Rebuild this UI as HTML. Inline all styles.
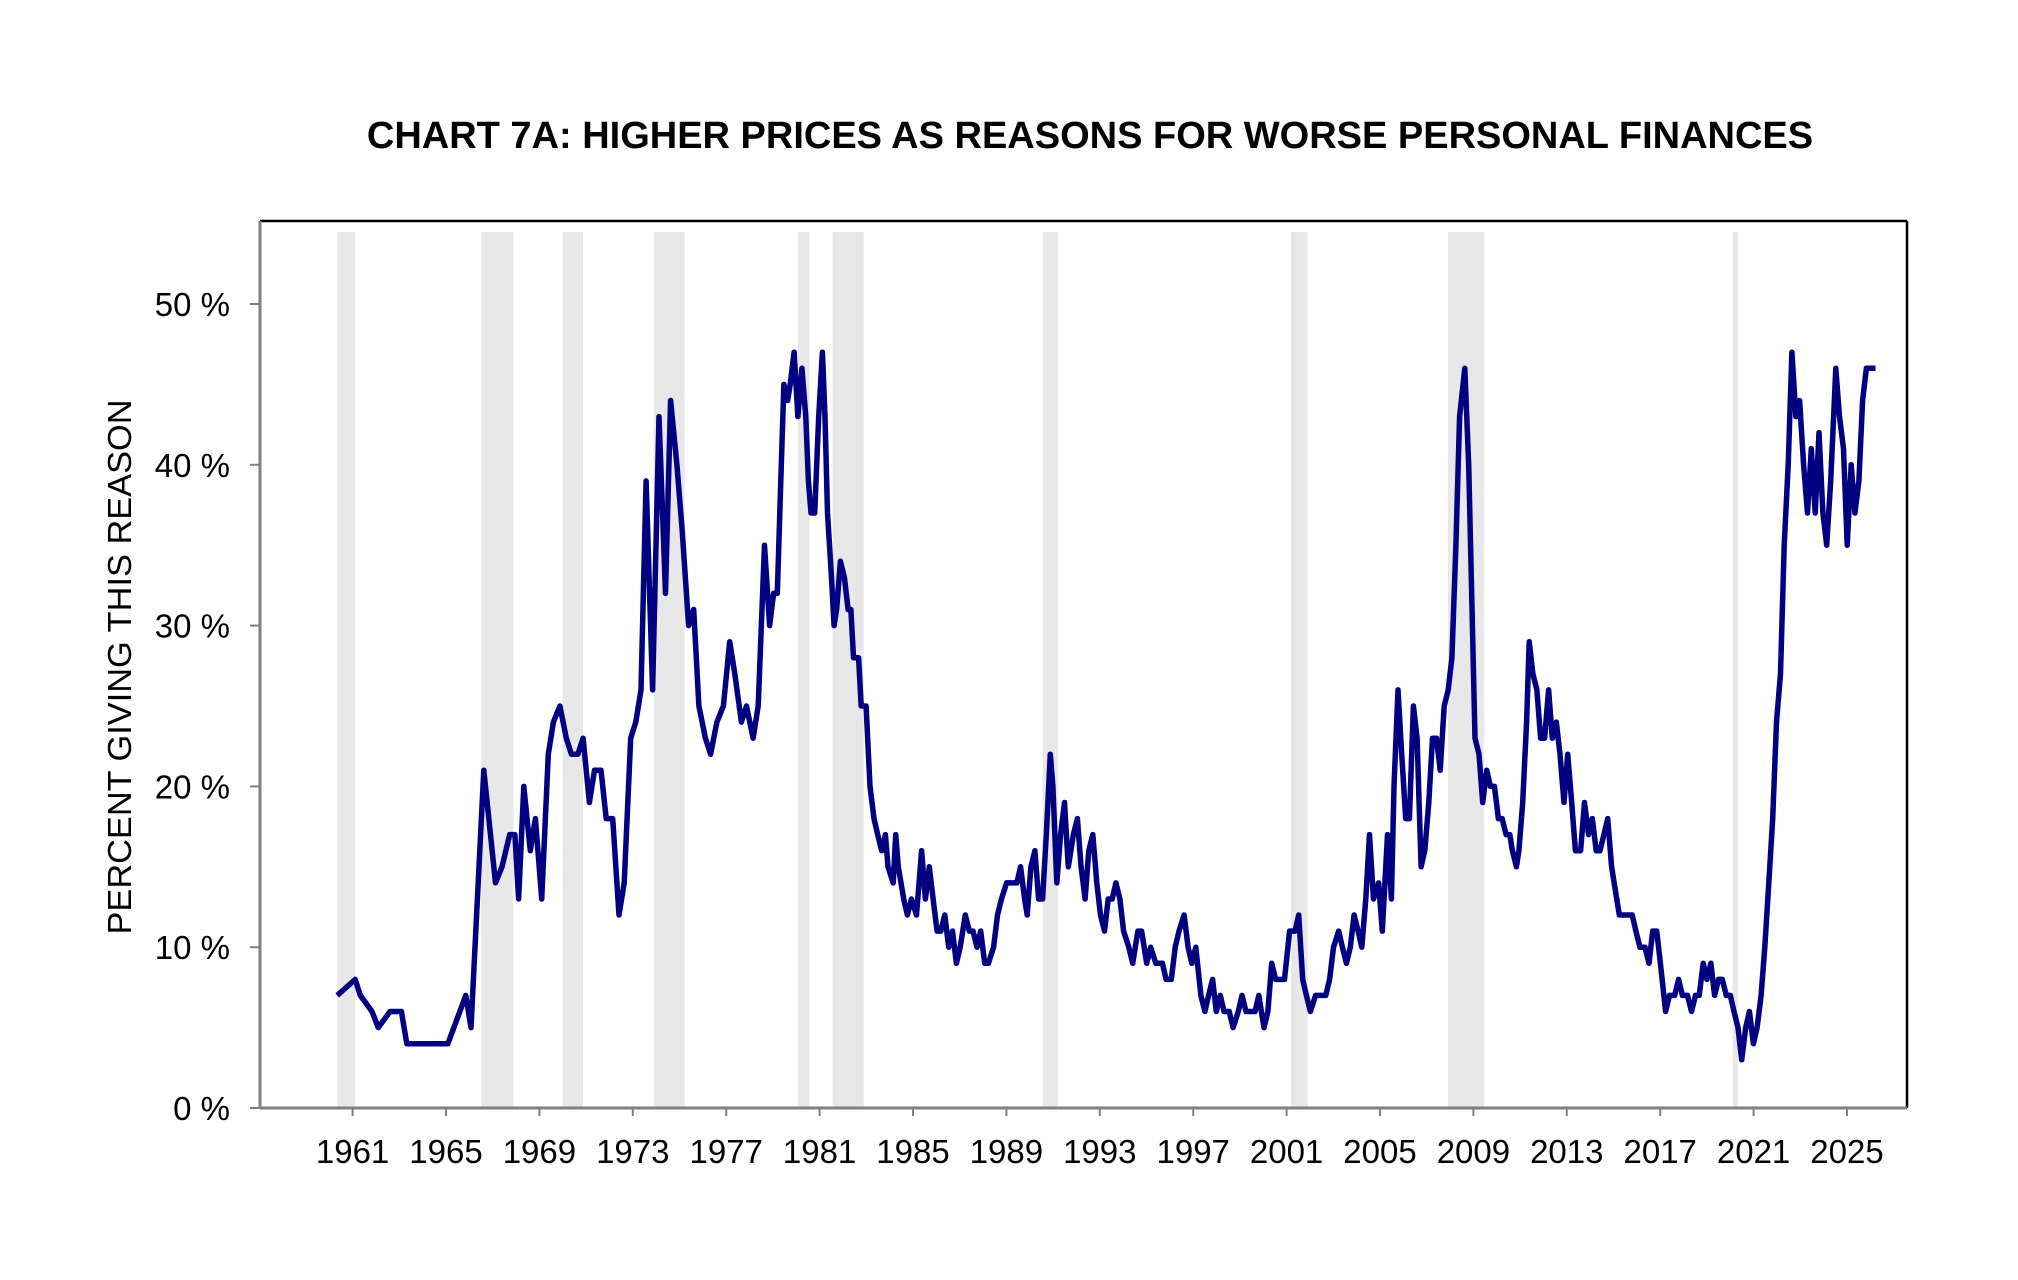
<!DOCTYPE html>
<html><head><meta charset="utf-8">
<style>
html,body{margin:0;padding:0;background:#fff;}
svg{display:block;font-family:"Liberation Sans",Arial,sans-serif;}
</style></head>
<body>
<svg id="chart" width="2018" height="1280" viewBox="0 0 2018 1280">
<text x="1090" y="148" text-anchor="middle" font-size="38" font-weight="bold" fill="#000">CHART 7A: HIGHER PRICES AS REASONS FOR WORSE PERSONAL FINANCES</text>
<text transform="translate(131,667) rotate(-90)" text-anchor="middle" font-size="33" fill="#000" textLength="535" lengthAdjust="spacingAndGlyphs">PERCENT GIVING THIS REASON</text>
<g id="shades"></g>
<g id="axes"></g>
<path id="series" fill="none" stroke="#000080" stroke-width="5.5" stroke-linejoin="round"/>
</svg>
<script>
const shadeStarts=[1960.34,1966.51,1969.99,1973.90,1980.07,1981.56,1990.55,2001.19,2007.91,2020.10];
const shadeEnds=[1961.11,1967.89,1970.87,1975.22,1980.57,1982.89,1991.21,2001.90,2009.46,2020.32];
const yTicks=[0,10,20,30,40,50];
const xTicks=[1961,1965,1969,1973,1977,1981,1985,1989,1993,1997,2001,2005,2009,2013,2017,2021,2025];
const years=[1960.34,1961.11,1961.33,1961.83,1962.10,1962.60,1963.09,1963.32,1963.81,1965.08,1965.85,1966.07,1966.62,1967.12,1967.40,1967.73,1967.95,1968.11,1968.33,1968.61,1968.83,1969.10,1969.38,1969.60,1969.88,1970.15,1970.37,1970.65,1970.87,1971.14,1971.36,1971.64,1971.86,1972.14,1972.41,1972.63,1972.91,1973.13,1973.35,1973.57,1973.85,1974.12,1974.40,1974.62,1974.89,1975.11,1975.39,1975.61,1975.83,1976.11,1976.33,1976.60,1976.88,1977.15,1977.37,1977.65,1977.87,1978.15,1978.37,1978.64,1978.86,1979.03,1979.19,1979.36,1979.47,1979.63,1979.74,1979.91,1980.07,1980.24,1980.41,1980.52,1980.63,1980.79,1980.96,1981.12,1981.23,1981.34,1981.51,1981.62,1981.73,1981.89,1982.06,1982.22,1982.34,1982.45,1982.67,1982.78,1982.99,1983.16,1983.33,1983.49,1983.66,1983.82,1983.93,1984.15,1984.26,1984.37,1984.60,1984.76,1984.93,1985.15,1985.37,1985.53,1985.70,1985.86,1986.03,1986.19,1986.36,1986.53,1986.69,1986.86,1987.02,1987.24,1987.41,1987.57,1987.74,1987.90,1988.07,1988.23,1988.45,1988.62,1988.79,1989.01,1989.23,1989.45,1989.61,1989.78,1989.89,1990.05,1990.22,1990.38,1990.55,1990.71,1990.88,1990.99,1991.16,1991.32,1991.49,1991.65,1991.87,1992.04,1992.20,1992.37,1992.53,1992.70,1992.87,1993.03,1993.20,1993.36,1993.53,1993.69,1993.86,1994.02,1994.24,1994.41,1994.63,1994.79,1995.01,1995.18,1995.40,1995.68,1995.84,1996.06,1996.23,1996.39,1996.61,1996.78,1996.94,1997.11,1997.33,1997.50,1997.66,1997.83,1997.99,1998.16,1998.32,1998.54,1998.71,1998.93,1999.09,1999.26,1999.65,1999.81,1999.92,2000.03,2000.20,2000.36,2000.53,2000.75,2000.91,2001.13,2001.36,2001.52,2001.69,2001.85,2002.02,2002.24,2002.46,2002.68,2002.84,2003.01,2003.23,2003.39,2003.56,2003.73,2003.89,2004.06,2004.22,2004.39,2004.55,2004.72,2004.94,2005.10,2005.32,2005.49,2005.60,2005.77,2005.93,2006.10,2006.26,2006.43,2006.59,2006.76,2006.92,2007.09,2007.25,2007.42,2007.58,2007.75,2007.92,2008.08,2008.25,2008.41,2008.63,2008.80,2008.91,2009.07,2009.24,2009.40,2009.57,2009.73,2009.90,2010.07,2010.23,2010.40,2010.56,2010.67,2010.84,2010.95,2011.11,2011.28,2011.39,2011.55,2011.72,2011.88,2012.05,2012.22,2012.38,2012.55,2012.71,2012.88,2013.04,2013.21,2013.37,2013.59,2013.76,2013.93,2014.09,2014.26,2014.42,2014.59,2014.75,2014.92,2015.25,2015.47,2015.80,2015.96,2016.13,2016.35,2016.52,2016.68,2016.85,2017.01,2017.23,2017.40,2017.62,2017.79,2017.95,2018.17,2018.34,2018.51,2018.67,2018.84,2019.00,2019.17,2019.33,2019.50,2019.66,2019.83,2020.00,2020.16,2020.33,2020.49,2020.66,2020.82,2020.99,2021.15,2021.32,2021.48,2021.65,2021.82,2021.98,2022.15,2022.31,2022.48,2022.64,2022.81,2022.97,2023.14,2023.31,2023.47,2023.64,2023.80,2023.97,2024.13,2024.30,2024.52,2024.68,2024.85,2025.01,2025.18,2025.34,2025.51,2025.67,2025.83,2026.22];
const values=[7,8,7,6,5,6,6,4,4,4,7,5,21,14,15,17,17,13,20,16,18,13,22,24,25,23,22,22,23,19,21,21,18,18,12,14,23,24,26,39,26,43,32,44,40,36,30,31,25,23,22,24,25,29,27,24,25,23,25,35,30,32,32,40,45,44,45,47,43,46,43,39,37,37,43,47,43,37,33,30,31,34,33,31,31,28,28,25,25,20,18,17,16,17,15,14,17,15,13,12,13,12,16,13,15,13,11,11,12,10,11,9,10,12,11,11,10,11,9,9,10,12,13,14,14,14,15,13,12,15,16,13,13,17,22,20,14,17,19,15,17,18,15,13,16,17,14,12,11,13,13,14,13,11,10,9,11,11,9,10,9,9,8,8,10,11,12,10,9,10,7,6,7,8,6,7,6,6,5,6,7,6,6,7,6,5,6,9,8,8,8,11,11,12,8,7,6,7,7,7,8,10,11,10,9,10,12,11,10,13,17,13,14,11,17,13,20,26,22,18,18,25,23,15,16,19,23,23,21,25,26,28,35,43,46,40,33,23,22,19,21,20,20,18,18,17,17,16,15,16,19,24,29,27,26,23,23,26,23,24,22,19,22,19,16,16,19,17,18,16,16,17,18,15,12,12,12,11,10,10,9,11,11,9,6,7,7,8,7,7,6,7,7,9,8,9,7,8,8,7,7,6,5,3,5,6,4,5,7,10,14,18,24,27,35,40,47,43,44,40,37,41,37,42,37,35,39,46,43,41,35,40,37,39,44,46,46];

const NS="http://www.w3.org/2000/svg";
const L=260,R=1907,T=221,B=1108;
function xs(yr){return 352.6+(yr-1961)*23.35;}
function ys(v){return B-v*16.08;}
const shG=document.getElementById('shades');
const axG=document.getElementById('axes');
function mk(tag,attrs,parent){const e=document.createElementNS(NS,tag);for(const k in attrs)e.setAttribute(k,attrs[k]);parent.appendChild(e);return e;}

for(let i=0;i<shadeStarts.length;i++){
  const r=mk('rect',{x:xs(shadeStarts[i]),y:232,width:xs(shadeEnds[i])-xs(shadeStarts[i]),height:B-232,fill:'#e8e8e8'},shG);
  
  
}
const frameTop=mk('line',{x1:L,y1:T,x2:R,y2:T,stroke:'#000','stroke-width':2.5},axG);


const frameRight=mk('line',{x1:R,y1:T,x2:R,y2:B,stroke:'#000','stroke-width':2.5},axG);


const yax=mk('line',{x1:L,y1:T,x2:L,y2:B+1,stroke:'#808080','stroke-width':3},axG);


const xax=mk('line',{x1:L,y1:B,x2:R,y2:B,stroke:'#808080','stroke-width':3},axG);



yTicks.forEach(v=>{
  const y=ys(v);
  mk('line',{x1:L-10,y1:y,x2:L,y2:y,stroke:'#808080','stroke-width':2},axG);
  const t=mk('text',{x:230,y:y+12,'text-anchor':'end','font-size':33,fill:'#000'},axG);
  t.textContent=v+' %';
  
  
});
xTicks.forEach(yr=>{
  const x=xs(yr);
  mk('line',{x1:x,y1:B,x2:x,y2:B+8,stroke:'#808080','stroke-width':2},axG);
  const t=mk('text',{x:x,y:1163,'text-anchor':'middle','font-size':33,fill:'#000'},axG);
  t.textContent=yr;
  
  
});

let d='';
for(let i=0;i<years.length;i++){d+=(i?'L':'M')+xs(years[i]).toFixed(1)+','+ys(values[i]).toFixed(1);}
document.getElementById('series').setAttribute('d',d);
</script>
</body></html>
